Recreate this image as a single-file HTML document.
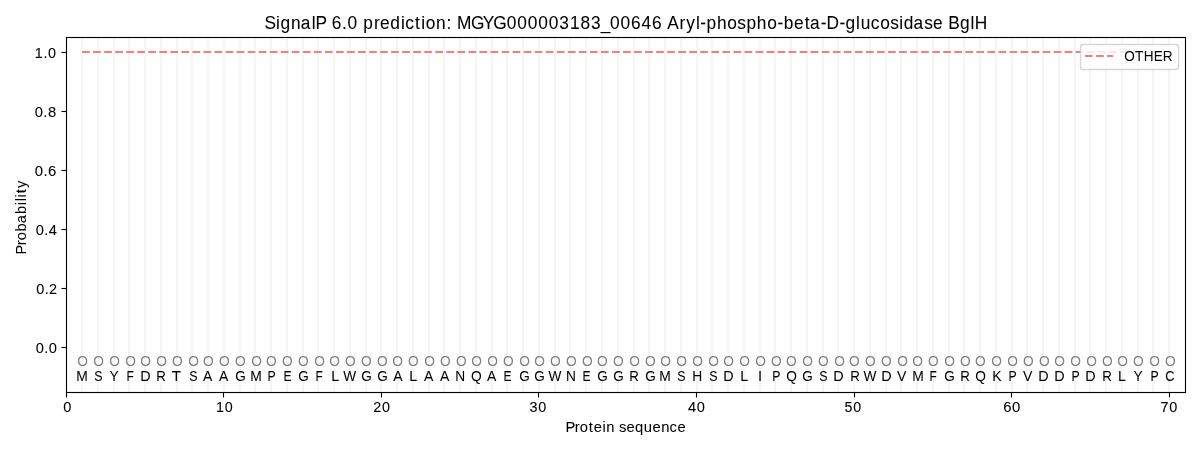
<!DOCTYPE html>
<html lang="en"><head><meta charset="utf-8"><title>SignalP 6.0 prediction</title>
<style>
html,body{margin:0;padding:0;background:#fff;}
body{width:1200px;height:450px;overflow:hidden;}
svg{display:block;will-change:transform;}
text{font-family:"Liberation Sans", sans-serif;fill:#000;white-space:pre;}
.g line{stroke:#f5f5f5;stroke-width:2.083;}
.gf line{stroke:#fefefe;stroke-width:4;}
text.t12{stroke:#000;stroke-width:0.06px;}
text.t10{stroke:#000;stroke-width:0.04px;}
text.tt{stroke:#000;stroke-width:0.07px;}
.aa text{stroke:#000;stroke-width:0.04px;}
.o text{fill:#808080;}
.tk line{stroke:#000;stroke-width:1.111;}
</style></head><body>
<svg width="1200" height="450" viewBox="0 0 1200 450">
<rect x="0" y="0" width="1200" height="450" fill="#ffffff"/>
<g class="gf">
<line x1="82" y1="37.5" x2="82" y2="392.5"/>
<line x1="98" y1="37.5" x2="98" y2="392.5"/>
<line x1="114" y1="37.5" x2="114" y2="392.5"/>
<line x1="129" y1="37.5" x2="129" y2="392.5"/>
<line x1="145" y1="37.5" x2="145" y2="392.5"/>
<line x1="161" y1="37.5" x2="161" y2="392.5"/>
<line x1="177" y1="37.5" x2="177" y2="392.5"/>
<line x1="192" y1="37.5" x2="192" y2="392.5"/>
<line x1="208" y1="37.5" x2="208" y2="392.5"/>
<line x1="224" y1="37.5" x2="224" y2="392.5"/>
<line x1="240" y1="37.5" x2="240" y2="392.5"/>
<line x1="255" y1="37.5" x2="255" y2="392.5"/>
<line x1="271" y1="37.5" x2="271" y2="392.5"/>
<line x1="287" y1="37.5" x2="287" y2="392.5"/>
<line x1="303" y1="37.5" x2="303" y2="392.5"/>
<line x1="318" y1="37.5" x2="318" y2="392.5"/>
<line x1="334" y1="37.5" x2="334" y2="392.5"/>
<line x1="350" y1="37.5" x2="350" y2="392.5"/>
<line x1="366" y1="37.5" x2="366" y2="392.5"/>
<line x1="381" y1="37.5" x2="381" y2="392.5"/>
<line x1="397" y1="37.5" x2="397" y2="392.5"/>
<line x1="413" y1="37.5" x2="413" y2="392.5"/>
<line x1="429" y1="37.5" x2="429" y2="392.5"/>
<line x1="444" y1="37.5" x2="444" y2="392.5"/>
<line x1="460" y1="37.5" x2="460" y2="392.5"/>
<line x1="476" y1="37.5" x2="476" y2="392.5"/>
<line x1="492" y1="37.5" x2="492" y2="392.5"/>
<line x1="507" y1="37.5" x2="507" y2="392.5"/>
<line x1="523" y1="37.5" x2="523" y2="392.5"/>
<line x1="539" y1="37.5" x2="539" y2="392.5"/>
<line x1="555" y1="37.5" x2="555" y2="392.5"/>
<line x1="570" y1="37.5" x2="570" y2="392.5"/>
<line x1="586" y1="37.5" x2="586" y2="392.5"/>
<line x1="602" y1="37.5" x2="602" y2="392.5"/>
<line x1="618" y1="37.5" x2="618" y2="392.5"/>
<line x1="634" y1="37.5" x2="634" y2="392.5"/>
<line x1="649" y1="37.5" x2="649" y2="392.5"/>
<line x1="665" y1="37.5" x2="665" y2="392.5"/>
<line x1="681" y1="37.5" x2="681" y2="392.5"/>
<line x1="697" y1="37.5" x2="697" y2="392.5"/>
<line x1="712" y1="37.5" x2="712" y2="392.5"/>
<line x1="728" y1="37.5" x2="728" y2="392.5"/>
<line x1="744" y1="37.5" x2="744" y2="392.5"/>
<line x1="760" y1="37.5" x2="760" y2="392.5"/>
<line x1="775" y1="37.5" x2="775" y2="392.5"/>
<line x1="791" y1="37.5" x2="791" y2="392.5"/>
<line x1="807" y1="37.5" x2="807" y2="392.5"/>
<line x1="823" y1="37.5" x2="823" y2="392.5"/>
<line x1="838" y1="37.5" x2="838" y2="392.5"/>
<line x1="854" y1="37.5" x2="854" y2="392.5"/>
<line x1="870" y1="37.5" x2="870" y2="392.5"/>
<line x1="886" y1="37.5" x2="886" y2="392.5"/>
<line x1="901" y1="37.5" x2="901" y2="392.5"/>
<line x1="917" y1="37.5" x2="917" y2="392.5"/>
<line x1="933" y1="37.5" x2="933" y2="392.5"/>
<line x1="949" y1="37.5" x2="949" y2="392.5"/>
<line x1="964" y1="37.5" x2="964" y2="392.5"/>
<line x1="980" y1="37.5" x2="980" y2="392.5"/>
<line x1="996" y1="37.5" x2="996" y2="392.5"/>
<line x1="1012" y1="37.5" x2="1012" y2="392.5"/>
<line x1="1027" y1="37.5" x2="1027" y2="392.5"/>
<line x1="1043" y1="37.5" x2="1043" y2="392.5"/>
<line x1="1059" y1="37.5" x2="1059" y2="392.5"/>
<line x1="1075" y1="37.5" x2="1075" y2="392.5"/>
<line x1="1090" y1="37.5" x2="1090" y2="392.5"/>
<line x1="1106" y1="37.5" x2="1106" y2="392.5"/>
<line x1="1122" y1="37.5" x2="1122" y2="392.5"/>
<line x1="1138" y1="37.5" x2="1138" y2="392.5"/>
<line x1="1153" y1="37.5" x2="1153" y2="392.5"/>
<line x1="1169" y1="37.5" x2="1169" y2="392.5"/>
</g>
<g class="g">
<line x1="82" y1="37.5" x2="82" y2="392.5"/>
<line x1="98" y1="37.5" x2="98" y2="392.5"/>
<line x1="114" y1="37.5" x2="114" y2="392.5"/>
<line x1="129" y1="37.5" x2="129" y2="392.5"/>
<line x1="145" y1="37.5" x2="145" y2="392.5"/>
<line x1="161" y1="37.5" x2="161" y2="392.5"/>
<line x1="177" y1="37.5" x2="177" y2="392.5"/>
<line x1="192" y1="37.5" x2="192" y2="392.5"/>
<line x1="208" y1="37.5" x2="208" y2="392.5"/>
<line x1="224" y1="37.5" x2="224" y2="392.5"/>
<line x1="240" y1="37.5" x2="240" y2="392.5"/>
<line x1="255" y1="37.5" x2="255" y2="392.5"/>
<line x1="271" y1="37.5" x2="271" y2="392.5"/>
<line x1="287" y1="37.5" x2="287" y2="392.5"/>
<line x1="303" y1="37.5" x2="303" y2="392.5"/>
<line x1="318" y1="37.5" x2="318" y2="392.5"/>
<line x1="334" y1="37.5" x2="334" y2="392.5"/>
<line x1="350" y1="37.5" x2="350" y2="392.5"/>
<line x1="366" y1="37.5" x2="366" y2="392.5"/>
<line x1="381" y1="37.5" x2="381" y2="392.5"/>
<line x1="397" y1="37.5" x2="397" y2="392.5"/>
<line x1="413" y1="37.5" x2="413" y2="392.5"/>
<line x1="429" y1="37.5" x2="429" y2="392.5"/>
<line x1="444" y1="37.5" x2="444" y2="392.5"/>
<line x1="460" y1="37.5" x2="460" y2="392.5"/>
<line x1="476" y1="37.5" x2="476" y2="392.5"/>
<line x1="492" y1="37.5" x2="492" y2="392.5"/>
<line x1="507" y1="37.5" x2="507" y2="392.5"/>
<line x1="523" y1="37.5" x2="523" y2="392.5"/>
<line x1="539" y1="37.5" x2="539" y2="392.5"/>
<line x1="555" y1="37.5" x2="555" y2="392.5"/>
<line x1="570" y1="37.5" x2="570" y2="392.5"/>
<line x1="586" y1="37.5" x2="586" y2="392.5"/>
<line x1="602" y1="37.5" x2="602" y2="392.5"/>
<line x1="618" y1="37.5" x2="618" y2="392.5"/>
<line x1="634" y1="37.5" x2="634" y2="392.5"/>
<line x1="649" y1="37.5" x2="649" y2="392.5"/>
<line x1="665" y1="37.5" x2="665" y2="392.5"/>
<line x1="681" y1="37.5" x2="681" y2="392.5"/>
<line x1="697" y1="37.5" x2="697" y2="392.5"/>
<line x1="712" y1="37.5" x2="712" y2="392.5"/>
<line x1="728" y1="37.5" x2="728" y2="392.5"/>
<line x1="744" y1="37.5" x2="744" y2="392.5"/>
<line x1="760" y1="37.5" x2="760" y2="392.5"/>
<line x1="775" y1="37.5" x2="775" y2="392.5"/>
<line x1="791" y1="37.5" x2="791" y2="392.5"/>
<line x1="807" y1="37.5" x2="807" y2="392.5"/>
<line x1="823" y1="37.5" x2="823" y2="392.5"/>
<line x1="838" y1="37.5" x2="838" y2="392.5"/>
<line x1="854" y1="37.5" x2="854" y2="392.5"/>
<line x1="870" y1="37.5" x2="870" y2="392.5"/>
<line x1="886" y1="37.5" x2="886" y2="392.5"/>
<line x1="901" y1="37.5" x2="901" y2="392.5"/>
<line x1="917" y1="37.5" x2="917" y2="392.5"/>
<line x1="933" y1="37.5" x2="933" y2="392.5"/>
<line x1="949" y1="37.5" x2="949" y2="392.5"/>
<line x1="964" y1="37.5" x2="964" y2="392.5"/>
<line x1="980" y1="37.5" x2="980" y2="392.5"/>
<line x1="996" y1="37.5" x2="996" y2="392.5"/>
<line x1="1012" y1="37.5" x2="1012" y2="392.5"/>
<line x1="1027" y1="37.5" x2="1027" y2="392.5"/>
<line x1="1043" y1="37.5" x2="1043" y2="392.5"/>
<line x1="1059" y1="37.5" x2="1059" y2="392.5"/>
<line x1="1075" y1="37.5" x2="1075" y2="392.5"/>
<line x1="1090" y1="37.5" x2="1090" y2="392.5"/>
<line x1="1106" y1="37.5" x2="1106" y2="392.5"/>
<line x1="1122" y1="37.5" x2="1122" y2="392.5"/>
<line x1="1138" y1="37.5" x2="1138" y2="392.5"/>
<line x1="1153" y1="37.5" x2="1153" y2="392.5"/>
<line x1="1169" y1="37.5" x2="1169" y2="392.5"/>
</g>
<g class="o">
<text transform="translate(77.16 365.90) scale(0.9340 1)" font-size="14.7">O</text>
<text transform="translate(93.14 365.90) scale(0.9340 1)" font-size="14.7">O</text>
<text transform="translate(109.16 365.90) scale(0.9340 1)" font-size="14.7">O</text>
<text transform="translate(125.14 365.90) scale(0.9340 1)" font-size="14.7">O</text>
<text transform="translate(140.18 365.90) scale(0.9340 1)" font-size="14.7">O</text>
<text transform="translate(156.16 365.90) scale(0.9340 1)" font-size="14.7">O</text>
<text transform="translate(172.07 365.90) scale(0.9340 1)" font-size="14.7">O</text>
<text transform="translate(188.13 365.90) scale(0.9340 1)" font-size="14.7">O</text>
<text transform="translate(203.09 365.90) scale(0.9340 1)" font-size="14.7">O</text>
<text transform="translate(219.07 365.90) scale(0.9340 1)" font-size="14.7">O</text>
<text transform="translate(235.10 365.90) scale(0.9340 1)" font-size="14.7">O</text>
<text transform="translate(251.15 365.90) scale(0.9340 1)" font-size="14.7">O</text>
<text transform="translate(266.11 365.90) scale(0.9340 1)" font-size="14.7">O</text>
<text transform="translate(282.10 365.90) scale(0.9340 1)" font-size="14.7">O</text>
<text transform="translate(298.12 365.90) scale(0.9340 1)" font-size="14.7">O</text>
<text transform="translate(314.18 365.90) scale(0.9340 1)" font-size="14.7">O</text>
<text transform="translate(329.14 365.90) scale(0.9340 1)" font-size="14.7">O</text>
<text transform="translate(345.12 365.90) scale(0.9340 1)" font-size="14.7">O</text>
<text transform="translate(361.11 365.90) scale(0.9340 1)" font-size="14.7">O</text>
<text transform="translate(377.09 365.90) scale(0.9340 1)" font-size="14.7">O</text>
<text transform="translate(392.13 365.90) scale(0.9340 1)" font-size="14.7">O</text>
<text transform="translate(408.11 365.90) scale(0.9340 1)" font-size="14.7">O</text>
<text transform="translate(424.14 365.90) scale(0.9340 1)" font-size="14.7">O</text>
<text transform="translate(440.11 365.90) scale(0.9340 1)" font-size="14.7">O</text>
<text transform="translate(456.09 365.90) scale(0.9340 1)" font-size="14.7">O</text>
<text transform="translate(471.14 365.90) scale(0.9340 1)" font-size="14.7">O</text>
<text transform="translate(487.16 365.90) scale(0.9340 1)" font-size="14.7">O</text>
<text transform="translate(503.12 365.90) scale(0.9340 1)" font-size="14.7">O</text>
<text transform="translate(519.18 365.90) scale(0.9340 1)" font-size="14.7">O</text>
<text transform="translate(534.14 365.90) scale(0.9340 1)" font-size="14.7">O</text>
<text transform="translate(550.12 365.90) scale(0.9340 1)" font-size="14.7">O</text>
<text transform="translate(566.11 365.90) scale(0.9340 1)" font-size="14.7">O</text>
<text transform="translate(582.08 365.90) scale(0.9340 1)" font-size="14.7">O</text>
<text transform="translate(597.12 365.90) scale(0.9340 1)" font-size="14.7">O</text>
<text transform="translate(613.11 365.90) scale(0.9340 1)" font-size="14.7">O</text>
<text transform="translate(629.13 365.90) scale(0.9340 1)" font-size="14.7">O</text>
<text transform="translate(645.11 365.90) scale(0.9340 1)" font-size="14.7">O</text>
<text transform="translate(660.15 365.90) scale(0.9340 1)" font-size="14.7">O</text>
<text transform="translate(676.13 365.90) scale(0.9340 1)" font-size="14.7">O</text>
<text transform="translate(692.16 365.90) scale(0.9340 1)" font-size="14.7">O</text>
<text transform="translate(708.13 365.90) scale(0.9340 1)" font-size="14.7">O</text>
<text transform="translate(723.18 365.90) scale(0.9340 1)" font-size="14.7">O</text>
<text transform="translate(739.16 365.90) scale(0.9340 1)" font-size="14.7">O</text>
<text transform="translate(755.18 365.90) scale(0.9340 1)" font-size="14.7">O</text>
<text transform="translate(771.12 365.90) scale(0.9340 1)" font-size="14.7">O</text>
<text transform="translate(786.08 365.90) scale(0.9340 1)" font-size="14.7">O</text>
<text transform="translate(802.18 365.90) scale(0.9340 1)" font-size="14.7">O</text>
<text transform="translate(818.09 365.90) scale(0.9340 1)" font-size="14.7">O</text>
<text transform="translate(834.15 365.90) scale(0.9340 1)" font-size="14.7">O</text>
<text transform="translate(849.11 365.90) scale(0.9340 1)" font-size="14.7">O</text>
<text transform="translate(865.09 365.90) scale(0.9340 1)" font-size="14.7">O</text>
<text transform="translate(881.12 365.90) scale(0.9340 1)" font-size="14.7">O</text>
<text transform="translate(897.17 365.90) scale(0.9340 1)" font-size="14.7">O</text>
<text transform="translate(912.14 365.90) scale(0.9340 1)" font-size="14.7">O</text>
<text transform="translate(928.12 365.90) scale(0.9340 1)" font-size="14.7">O</text>
<text transform="translate(944.14 365.90) scale(0.9340 1)" font-size="14.7">O</text>
<text transform="translate(960.08 365.90) scale(0.9340 1)" font-size="14.7">O</text>
<text transform="translate(975.12 365.90) scale(0.9340 1)" font-size="14.7">O</text>
<text transform="translate(991.14 365.90) scale(0.9340 1)" font-size="14.7">O</text>
<text transform="translate(1007.13 365.90) scale(0.9340 1)" font-size="14.7">O</text>
<text transform="translate(1023.11 365.90) scale(0.9340 1)" font-size="14.7">O</text>
<text transform="translate(1039.09 365.90) scale(0.9340 1)" font-size="14.7">O</text>
<text transform="translate(1054.13 365.90) scale(0.9340 1)" font-size="14.7">O</text>
<text transform="translate(1070.16 365.90) scale(0.9340 1)" font-size="14.7">O</text>
<text transform="translate(1086.13 365.90) scale(0.9340 1)" font-size="14.7">O</text>
<text transform="translate(1102.09 365.90) scale(0.9340 1)" font-size="14.7">O</text>
<text transform="translate(1117.13 365.90) scale(0.9340 1)" font-size="14.7">O</text>
<text transform="translate(1133.11 365.90) scale(0.9340 1)" font-size="14.7">O</text>
<text transform="translate(1149.14 365.90) scale(0.9340 1)" font-size="14.7">O</text>
<text transform="translate(1165.08 365.90) scale(0.9340 1)" font-size="14.7">O</text>
</g>
<g class="aa">
<text transform="translate(76.27 380.70) scale(0.9421 1)" font-size="14.7">M</text>
<text transform="translate(94.20 380.70) scale(0.8423 1)" font-size="14.7">S</text>
<text transform="translate(109.52 380.70) scale(0.9322 1)" font-size="14.7">Y</text>
<text transform="translate(126.48 380.70) scale(0.8099 1)" font-size="14.7">F</text>
<text transform="translate(140.19 380.70) scale(0.9775 1)" font-size="14.7">D</text>
<text transform="translate(156.17 380.70) scale(0.9036 1)" font-size="14.7">R</text>
<text transform="translate(171.65 380.70) scale(1.0305 1)" font-size="14.7">T</text>
<text transform="translate(189.19 380.70) scale(0.8423 1)" font-size="14.7">S</text>
<text transform="translate(203.05 380.70) scale(0.9518 1)" font-size="14.7">A</text>
<text transform="translate(219.04 380.70) scale(0.9518 1)" font-size="14.7">A</text>
<text transform="translate(235.13 380.70) scale(0.9215 1)" font-size="14.7">G</text>
<text transform="translate(250.22 380.70) scale(0.9421 1)" font-size="14.7">M</text>
<text transform="translate(267.39 380.70) scale(0.8356 1)" font-size="14.7">P</text>
<text transform="translate(283.48 380.70) scale(0.8189 1)" font-size="14.7">E</text>
<text transform="translate(298.16 380.70) scale(0.9215 1)" font-size="14.7">G</text>
<text transform="translate(315.40 380.70) scale(0.8099 1)" font-size="14.7">F</text>
<text transform="translate(331.18 380.70) scale(0.9720 1)" font-size="14.7">L</text>
<text transform="translate(343.36 380.70) scale(0.9315 1)" font-size="14.7">W</text>
<text transform="translate(361.18 380.70) scale(0.9215 1)" font-size="14.7">G</text>
<text transform="translate(377.21 380.70) scale(0.9215 1)" font-size="14.7">G</text>
<text transform="translate(393.15 380.70) scale(0.9518 1)" font-size="14.7">A</text>
<text transform="translate(409.24 380.70) scale(0.9720 1)" font-size="14.7">L</text>
<text transform="translate(424.05 380.70) scale(0.9518 1)" font-size="14.7">A</text>
<text transform="translate(440.07 380.70) scale(0.9518 1)" font-size="14.7">A</text>
<text transform="translate(455.24 380.70) scale(0.9333 1)" font-size="14.7">N</text>
<text transform="translate(471.10 380.70) scale(0.9340 1)" font-size="14.7">Q</text>
<text transform="translate(487.08 380.70) scale(0.9518 1)" font-size="14.7">A</text>
<text transform="translate(503.45 380.70) scale(0.8189 1)" font-size="14.7">E</text>
<text transform="translate(519.20 380.70) scale(0.9215 1)" font-size="14.7">G</text>
<text transform="translate(534.13 380.70) scale(0.9215 1)" font-size="14.7">G</text>
<text transform="translate(548.42 380.70) scale(0.9315 1)" font-size="14.7">W</text>
<text transform="translate(566.10 380.70) scale(0.9333 1)" font-size="14.7">N</text>
<text transform="translate(582.45 380.70) scale(0.8189 1)" font-size="14.7">E</text>
<text transform="translate(597.16 380.70) scale(0.9215 1)" font-size="14.7">G</text>
<text transform="translate(613.14 380.70) scale(0.9215 1)" font-size="14.7">G</text>
<text transform="translate(629.26 380.70) scale(0.9036 1)" font-size="14.7">R</text>
<text transform="translate(645.19 380.70) scale(0.9215 1)" font-size="14.7">G</text>
<text transform="translate(659.26 380.70) scale(0.9421 1)" font-size="14.7">M</text>
<text transform="translate(677.19 380.70) scale(0.8423 1)" font-size="14.7">S</text>
<text transform="translate(692.23 380.70) scale(0.9399 1)" font-size="14.7">H</text>
<text transform="translate(709.20 380.70) scale(0.8423 1)" font-size="14.7">S</text>
<text transform="translate(723.25 380.70) scale(0.9775 1)" font-size="14.7">D</text>
<text transform="translate(740.13 380.70) scale(0.9720 1)" font-size="14.7">L</text>
<text transform="translate(757.98 380.70) scale(0.9992 1)" font-size="14.7">I</text>
<text transform="translate(772.37 380.70) scale(0.8356 1)" font-size="14.7">P</text>
<text transform="translate(786.16 380.70) scale(0.9340 1)" font-size="14.7">Q</text>
<text transform="translate(802.22 380.70) scale(0.9215 1)" font-size="14.7">G</text>
<text transform="translate(819.18 380.70) scale(0.8423 1)" font-size="14.7">S</text>
<text transform="translate(833.26 380.70) scale(0.9775 1)" font-size="14.7">D</text>
<text transform="translate(850.18 380.70) scale(0.9036 1)" font-size="14.7">R</text>
<text transform="translate(863.41 380.70) scale(0.9315 1)" font-size="14.7">W</text>
<text transform="translate(881.25 380.70) scale(0.9775 1)" font-size="14.7">D</text>
<text transform="translate(896.91 380.70) scale(0.9588 1)" font-size="14.7">V</text>
<text transform="translate(912.27 380.70) scale(0.9421 1)" font-size="14.7">M</text>
<text transform="translate(929.41 380.70) scale(0.8099 1)" font-size="14.7">F</text>
<text transform="translate(944.18 380.70) scale(0.9215 1)" font-size="14.7">G</text>
<text transform="translate(960.16 380.70) scale(0.9036 1)" font-size="14.7">R</text>
<text transform="translate(975.19 380.70) scale(0.9340 1)" font-size="14.7">Q</text>
<text transform="translate(992.19 380.70) scale(0.9529 1)" font-size="14.7">K</text>
<text transform="translate(1008.43 380.70) scale(0.8356 1)" font-size="14.7">P</text>
<text transform="translate(1022.96 380.70) scale(0.9588 1)" font-size="14.7">V</text>
<text transform="translate(1038.16 380.70) scale(0.9775 1)" font-size="14.7">D</text>
<text transform="translate(1054.14 380.70) scale(0.9775 1)" font-size="14.7">D</text>
<text transform="translate(1071.45 380.70) scale(0.8356 1)" font-size="14.7">P</text>
<text transform="translate(1085.21 380.70) scale(0.9775 1)" font-size="14.7">D</text>
<text transform="translate(1102.25 380.70) scale(0.9036 1)" font-size="14.7">R</text>
<text transform="translate(1118.11 380.70) scale(0.9720 1)" font-size="14.7">L</text>
<text transform="translate(1133.43 380.70) scale(0.9322 1)" font-size="14.7">Y</text>
<text transform="translate(1150.42 380.70) scale(0.8356 1)" font-size="14.7">P</text>
<text transform="translate(1165.27 380.70) scale(0.8771 1)" font-size="14.7">C</text>
</g>
<path d="M82.04 52 H1169.24" fill="none" stroke="#fef9f9" stroke-width="4" stroke-dasharray="7.708 3.333"/>
<path d="M82.04 52 H1169.24" fill="none" stroke="#f08080" stroke-width="2.083" stroke-dasharray="7.708 3.333"/>
<rect x="66.5" y="37.5" width="1119" height="355" fill="none" stroke="#000" stroke-width="1.111"/>
<g class="tk">
<line x1="66.5" y1="392.5" x2="66.5" y2="397.5"/>
<line x1="223.5" y1="392.5" x2="223.5" y2="397.5"/>
<line x1="381.5" y1="392.5" x2="381.5" y2="397.5"/>
<line x1="538.5" y1="392.5" x2="538.5" y2="397.5"/>
<line x1="696.5" y1="392.5" x2="696.5" y2="397.5"/>
<line x1="854.5" y1="392.5" x2="854.5" y2="397.5"/>
<line x1="1011.5" y1="392.5" x2="1011.5" y2="397.5"/>
<line x1="1169.5" y1="392.5" x2="1169.5" y2="397.5"/>
<line x1="61.5" y1="347.5" x2="66.5" y2="347.5"/>
<line x1="61.5" y1="288.5" x2="66.5" y2="288.5"/>
<line x1="61.5" y1="229.5" x2="66.5" y2="229.5"/>
<line x1="61.5" y1="170.5" x2="66.5" y2="170.5"/>
<line x1="61.5" y1="111.5" x2="66.5" y2="111.5"/>
<line x1="61.5" y1="52.5" x2="66.5" y2="52.5"/>
</g>
<text class="t12" transform="translate(264.99 29.19) scale(0.9837 1)" font-size="17.6" x="-0.40 11.08 15.76 26.56 36.39 47.42 51.24 62.01 67.84 78.27 83.85 94.04 99.97 110.93 117.01 127.46 138.16 142.51 152.56 158.75 163.33 173.85 184.42 189.85 195.17 209.52 221.31 232.01 245.88 256.55 267.23 277.90 288.58 299.27 309.97 320.85 331.55 341.21 350.84 361.52 372.20 382.87 393.54 403.73 408.98 421.51 428.23 438.05 442.48 448.92 459.49 469.97 480.10 489.46 500.03 510.51 520.89 527.33 537.76 548.66 554.10 564.86 570.90 583.92 590.15 600.84 605.58 615.88 625.39 635.52 644.69 649.36 659.32 670.09 679.20 689.27 694.52 706.55 717.24 721.56">SignalP 6.0 prediction: MGYG000003183_00646 Aryl-phospho-beta-D-glucosidase BglH</text>
<text class="t10" transform="translate(565.96 431.80) scale(1.0208 1)" font-size="14.5" x="-0.51 8.60 13.48 22.29 27.24 35.68 39.50 47.76 52.06 59.21 67.55 76.30 84.80 93.25 101.47 109.17">Protein sequence</text>
<text class="t10" transform="translate(25.60 253.96) rotate(-90) scale(1.0084 1)" font-size="14.5" x="-0.45 8.74 13.70 22.37 30.41 39.72 48.41 52.24 56.09 60.27 65.52">Probability</text>
<text class="tt" transform="translate(63.00 411.90) scale(0.9960 1)" font-size="14.7" x="0.35">0</text>
<text class="tt" transform="translate(215.54 411.90) scale(0.9748 1)" font-size="14.7" x="0.37 9.55">10</text>
<text class="tt" transform="translate(372.91 411.90) scale(0.9784 1)" font-size="14.7" x="0.24 9.37">20</text>
<text class="tt" transform="translate(529.18 411.90) scale(0.9763 1)" font-size="14.7" x="0.45 9.40">30</text>
<text class="tt" transform="translate(687.61 411.90) scale(0.9960 1)" font-size="14.7" x="0.34 9.13">40</text>
<text class="tt" transform="translate(844.16 411.90) scale(0.9681 1)" font-size="14.7" x="0.42 9.51">50</text>
<text class="tt" transform="translate(1002.98 411.90) scale(1.0131 1)" font-size="14.7" x="0.27 9.03">60</text>
<text class="tt" transform="translate(1160.18 411.90) scale(0.9854 1)" font-size="14.7" x="0.36 9.27">70</text>
<text class="tt" transform="translate(35.32 353.22) scale(0.9984 1)" font-size="14.7" x="0.33 8.93 13.48">0.0</text>
<text class="tt" transform="translate(35.77 294.16) scale(0.9825 1)" font-size="14.7" x="0.41 9.10 13.58">0.2</text>
<text class="tt" transform="translate(35.41 235.09) scale(0.9984 1)" font-size="14.7" x="0.33 8.93 13.48">0.4</text>
<text class="tt" transform="translate(34.51 176.03) scale(1.0139 1)" font-size="14.7" x="0.27 8.76 13.21">0.6</text>
<text class="tt" transform="translate(34.47 116.96) scale(1.0032 1)" font-size="14.7" x="0.31 8.87 13.40">0.8</text>
<text class="tt" transform="translate(34.42 57.90) scale(0.9793 1)" font-size="14.7" x="0.35 9.27 13.95">1.0</text>
<rect x="1080.5" y="44.5" width="98" height="25" rx="2.78" ry="2.78" fill="#ffffff" fill-opacity="0.8" stroke="#cccccc" stroke-opacity="0.8" stroke-width="1.389"/>
<path d="M1085 56 H1113" fill="none" stroke="#f08080" stroke-width="2.083" stroke-dasharray="7.708 3.333"/>
<text class="lg" transform="translate(1124.14 60.70) scale(0.9263 1)" font-size="14.7" x="0.19 11.83 21.24 31.92 41.72">OTHER</text>
</svg>
</body></html>
